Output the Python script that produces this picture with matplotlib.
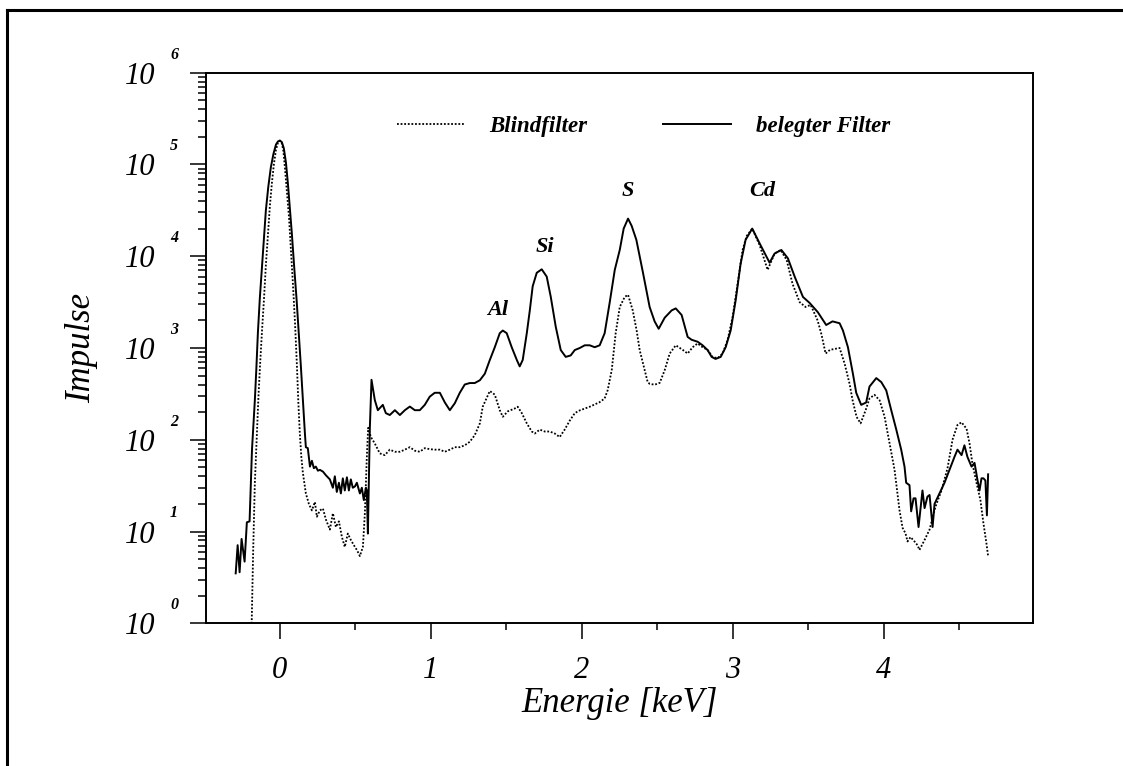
import matplotlib
matplotlib.use("Agg")
import matplotlib.pyplot as plt
from matplotlib.lines import Line2D
from matplotlib.ticker import MultipleLocator, LogLocator, NullFormatter, FixedLocator

# belegter Filter (solid)
e_beleg = [-0.293, -0.280, -0.267, -0.254, -0.234, -0.219, -0.201, -0.185, -0.175, -0.166,
           -0.156, -0.146, -0.133, -0.119, -0.106, -0.093, -0.077, -0.060, -0.043, -0.026,
           -0.013, 0.0, 0.013, 0.026, 0.040, 0.053, 0.066, 0.079, 0.095, 0.111,
           0.125, 0.139, 0.149, 0.159, 0.166, 0.172, 0.185, 0.199, 0.212, 0.225,
           0.238, 0.252, 0.265, 0.285,
           0.305, 0.331, 0.351, 0.364, 0.377, 0.391, 0.404, 0.417, 0.430, 0.444,
           0.457, 0.470, 0.483, 0.497, 0.510, 0.530, 0.543, 0.556, 0.570, 0.576,
           0.583, 0.596, 0.607, 0.629, 0.649, 0.682, 0.702, 0.728, 0.762, 0.795,
           0.828, 0.861, 0.894, 0.927, 0.960, 0.993, 1.026, 1.060, 1.093, 1.126,
           1.159, 1.192, 1.225, 1.258, 1.291, 1.325, 1.358, 1.391, 1.424, 1.457,
           1.477, 1.503, 1.536, 1.570, 1.589, 1.609, 1.636, 1.656, 1.675, 1.702,
           1.735, 1.768, 1.795, 1.828, 1.861, 1.894, 1.927, 1.954, 1.987, 2.020,
           2.053, 2.086, 2.119, 2.152, 2.185, 2.219, 2.252, 2.278, 2.307, 2.331,
           2.362, 2.406, 2.450, 2.483, 2.510, 2.550, 2.596, 2.623, 2.662, 2.702,
           2.728, 2.768, 2.801, 2.834, 2.861, 2.887, 2.921, 2.954, 2.987, 3.020,
           3.053, 3.086, 3.130, 3.179, 3.245, 3.278, 3.323, 3.366, 3.411, 3.466,
           3.510, 3.565, 3.620, 3.662, 3.709, 3.731, 3.764, 3.797, 3.819, 3.852,
           3.885, 3.907, 3.952, 3.985, 4.018, 4.051, 4.084, 4.117, 4.139, 4.150,
           4.172, 4.183, 4.199, 4.212, 4.232, 4.258, 4.272, 4.291, 4.305, 4.325,
           4.338, 4.371, 4.404, 4.437, 4.470, 4.490, 4.517, 4.536, 4.556, 4.583,
           4.603, 4.623, 4.636, 4.649, 4.662, 4.675, 4.685, 4.693]
i_beleg = [3.5, 7.1, 3.6, 8.3, 4.7, 12.6, 12.9, 78, 150, 270,
           600, 1450, 3500, 7600, 16000, 31600, 57000, 93000, 130000, 165000,
           178000, 182000, 175000, 150000, 105000, 62000, 33000, 17800, 7500, 3300,
           1450, 630, 330, 178, 115, 83, 81, 51, 59, 49,
           51, 46, 47, 45,
           41, 37, 30, 40, 27, 34, 26, 38, 28, 39,
           28, 37, 30, 31, 34, 26, 30, 22, 30, 28,
           9.5, 135, 450, 270, 210, 240, 195, 186, 210, 186,
           210, 230, 210, 210, 240, 295, 325, 325, 255, 210,
           250, 325, 400, 415, 415, 445, 525, 740, 1020, 1450,
           1550, 1450, 1020, 740, 630, 740, 1450, 2570, 4700, 6600,
           7200, 6000, 3600, 1700, 950, 800, 830, 950, 1000, 1070,
           1070, 1020, 1070, 1450, 3100, 7100, 11700, 20000, 25700, 21400,
           15100, 6600, 2800, 1950, 1620, 2140, 2570, 2700, 2290, 1320,
           1230, 1170, 1070, 950, 800, 760, 800, 1020, 1550, 3300,
           8300, 15100, 20000, 13800, 8500, 10700, 11700, 9500, 6000, 3600,
           3100, 2450, 1780, 1950, 1860, 1550, 1020, 525, 325, 240,
           255, 380, 470, 425, 345, 210, 130, 78, 51, 34,
           32, 16.6, 23, 23, 11.2, 28, 18, 24, 25, 11.2,
           20, 26, 34, 47, 65, 78, 68, 87, 65, 51,
           56, 36, 28, 38, 38, 36, 15, 42]

# Blindfilter (dotted)
e_blind = [-0.285, -0.240, -0.187, -0.177, -0.166, -0.152, -0.142, -0.132, -0.119, -0.106,
           -0.093, -0.079, -0.066, -0.053, -0.040, -0.026, -0.013, 0.0, 0.013, 0.023,
           0.033, 0.046, 0.060, 0.073, 0.086, 0.100, 0.113, 0.122, 0.132, 0.142,
           0.152, 0.172, 0.192,
           0.212, 0.232, 0.245, 0.265, 0.285, 0.305, 0.331, 0.351, 0.371, 0.391,
           0.411, 0.430, 0.450, 0.470, 0.490, 0.510, 0.530, 0.550, 0.563, 0.576,
           0.585, 0.603, 0.629, 0.662, 0.695, 0.728, 0.762, 0.795, 0.828, 0.861,
           0.894, 0.927, 0.960, 0.993, 1.026, 1.060, 1.093, 1.126, 1.159, 1.192,
           1.225, 1.258, 1.291, 1.325, 1.344, 1.391, 1.424, 1.457, 1.477, 1.510,
           1.556, 1.576, 1.603, 1.636, 1.669, 1.689, 1.722, 1.755, 1.788, 1.821,
           1.854, 1.887, 1.921, 1.954, 1.987, 2.053, 2.119, 2.152, 2.172, 2.199,
           2.225, 2.252, 2.285, 2.307, 2.338, 2.364, 2.384, 2.417, 2.437, 2.450,
           2.483, 2.517, 2.550, 2.583, 2.623, 2.669, 2.702, 2.735, 2.768, 2.801,
           2.834, 2.868, 2.901, 2.934, 2.967, 3.000, 3.033, 3.066, 3.093, 3.130,
           3.179, 3.232, 3.278, 3.318, 3.358, 3.397, 3.444, 3.483, 3.517, 3.563,
           3.589, 3.616, 3.645, 3.709, 3.742, 3.775, 3.795, 3.821, 3.848, 3.881,
           3.907, 3.940, 3.974, 4.007, 4.040, 4.073, 4.106, 4.126, 4.146, 4.159,
           4.179, 4.205, 4.225, 4.238, 4.272, 4.305, 4.344, 4.384, 4.424, 4.457,
           4.490, 4.517, 4.550, 4.570, 4.589, 4.616, 4.642, 4.662, 4.682, 4.693]
i_blind = [1.0, 1.0, 1.0, 6.3, 34, 117, 300, 630, 1500, 3300,
           8000, 17800, 36000, 63000, 100000, 145000, 172000, 182000, 170000, 140000,
           93000, 52000, 27000, 12000, 5100, 1900, 630, 260, 117, 65,
           44, 26, 20,
           17, 21, 14.5, 17, 17.8, 13.5, 10.5, 15.8, 11.2, 12.9,
           8.7, 6.8, 9.5, 8.1, 7.1, 6.3, 5.4, 6.8, 15.8, 65,
           135, 107, 91, 71, 68, 78, 74, 74, 78, 83,
           76, 74, 81, 79, 78, 78, 74, 78, 83, 83,
           87, 95, 112, 151, 229, 340, 310, 210, 178, 204,
           219, 229, 195, 151, 123, 117, 129, 123, 123, 117,
           107, 129, 162, 195, 209, 229, 257, 282, 347, 575,
           1450, 2800, 3600, 3800, 2570, 1550, 950, 575, 425, 407,
           398, 417, 575, 870, 1070, 955, 870, 1020, 1120, 1020,
           955, 795, 776, 870, 1230, 2190, 5000, 11700, 16600, 20000,
           13200, 7100, 10700, 11700, 9100, 5000, 3160, 2800, 2950, 2000,
           1400, 870, 955, 1000, 676, 407, 269, 178, 151, 209,
           282, 309, 269, 178, 91, 47, 17, 11, 9.5, 7.8,
           8.7, 7.8, 7.1, 6.3, 8.1, 10.5, 18.6, 28, 49, 100,
           145, 155, 132, 91, 55, 34, 22, 12.3, 7.4, 5.4]

peak_names = ["Al", "Si", "S", "Cd"]
peak_e = [1.444, 1.755, 2.305, 3.197]
peak_y = [2570, 12600, 52000, 52000]

decades = [1, 10, 100, 1000, 1e4, 1e5, 1e6]
exponents = ["0", "1", "2", "3", "4", "5", "6"]
x_major = [0, 1, 2, 3, 4]

serif = "Liberation Serif"
plt.rcParams["font.family"] = serif

fig = plt.figure(figsize=(11.23, 7.66), dpi=100)
ax = fig.add_axes([0.1834, 0.1863, 0.7364, 0.7188])

ax.plot(e_blind, i_blind, color="black", lw=1.3, linestyle=(0, (1, 1)), label="Blindfilter")
ax.plot(e_beleg, i_beleg, color="black", lw=1.4, label="belegter Filter")

ax.set_yscale("log")
ax.set_xlim(-0.49, 4.99)
ax.set_ylim(1, 1e6)

for sp in ax.spines.values():
    sp.set_linewidth(1.4)

ax.xaxis.set_major_locator(FixedLocator(x_major))
ax.xaxis.set_minor_locator(MultipleLocator(0.5))
ax.set_xticklabels([str(v) for v in x_major], fontsize=22, style="italic")

ax.yaxis.set_major_locator(FixedLocator(decades))
ax.yaxis.set_minor_locator(LogLocator(base=10, subs=range(2, 10), numticks=20))
ax.yaxis.set_minor_formatter(NullFormatter())
ax.set_yticklabels(["10"] * len(decades), fontsize=22, style="italic")

ax.tick_params(axis="x", which="major", direction="out", length=11.5, width=1.1, pad=12)
ax.tick_params(axis="x", which="minor", direction="out", length=5, width=1.1)
ax.tick_params(axis="y", which="major", direction="out", length=11.5, width=1.1, pad=25)
ax.tick_params(axis="y", which="minor", direction="out", length=6, width=1.1)

for val, ex in zip(decades, exponents):
    ax.annotate(ex, xy=(0, val), xycoords=("axes fraction", "data"),
                xytext=(-23, 13), textcoords="offset points",
                ha="center", va="center", fontsize=11.5, fontweight="bold",
                style="italic", annotation_clip=False)

ax.set_xlabel("Energie [keV]", fontsize=25, style="italic")
ax.xaxis.label.set_va("center")
ax.xaxis.set_label_coords(0.5, -0.146)
ax.set_ylabel("Impulse", fontsize=25, style="italic")
ax.yaxis.label.set_va("center")
ax.yaxis.set_label_coords(-0.15, 0.5)

for name, xe, yv in zip(peak_names, peak_e, peak_y):
    ax.text(xe, yv, name, ha="center", va="center", fontsize=16,
            fontweight="bold", style="italic")

leg = ax.legend(loc="center left", bbox_to_anchor=(0.2306, 0.903), ncol=2,
                frameon=False, borderpad=0, borderaxespad=0,
                handlelength=2.95, handletextpad=1.1, columnspacing=3.3,
                prop={"family": serif, "size": 16.5, "weight": "bold", "style": "italic"})

# outer frame (only top and left edges are visible)
fig.add_artist(Line2D([7 / 1123, 1], [1 - 10 / 766, 1 - 10 / 766],
                      transform=fig.transFigure, color="black", lw=2.2))
fig.add_artist(Line2D([7 / 1123, 7 / 1123], [0, 1 - 10 / 766],
                      transform=fig.transFigure, color="black", lw=2.2))

fig.savefig("out.png", dpi=100)
